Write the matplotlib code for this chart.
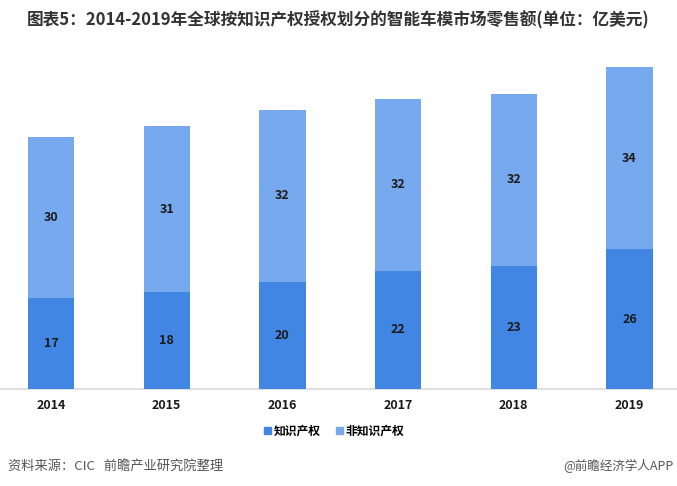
import matplotlib
matplotlib.use("Agg")
import matplotlib.pyplot as plt
from matplotlib.patches import Patch

plt.rcParams['font.family'] = ['Noto Sans CJK SC', 'DejaVu Sans']

years = ['2014', '2015', '2016', '2017', '2018', '2019']
ip_values = [17, 18, 20, 22, 23, 26]
non_ip_values = [30, 31, 32, 32, 32, 34]
series_names = ['知识产权', '非知识产权']

dark = '#4186E2'
light = '#77A9EE'

W, H = 677, 486
fig = plt.figure(figsize=(W/100, H/100), dpi=100)
ax = fig.add_axes([0, 1-389/H, 1, (389-40)/H])

x = list(range(len(years)))
bw = 0.40
b1 = ax.bar(x, ip_values, bw, color=dark, zorder=3)
b2 = ax.bar(x, non_ip_values, bw, bottom=ip_values, color=light, zorder=3)

for i in x:
    ax.text(i, ip_values[i]/2, str(ip_values[i]), ha='center', va='center',
            fontsize=9, fontweight='bold', color='#1a1a1a', zorder=4)
    ax.text(i, ip_values[i] + non_ip_values[i]/2, str(non_ip_values[i]), ha='center', va='center',
            fontsize=9, fontweight='bold', color='#1a1a1a', zorder=4)

ax.set_xlim(-0.44, 5.41)
ax.set_ylim(0, 65)
for s in ['top', 'right', 'left']:
    ax.spines[s].set_visible(False)
ax.spines['bottom'].set_color('#d9d9d9')
ax.spines['bottom'].set_linewidth(1.2)
ax.set_yticks([])
ax.set_xticks(x)
ax.set_xticklabels(years, fontsize=9, fontweight='bold', color='#1a1a1a')
ax.tick_params(axis='x', length=0, pad=7)

handles = [Patch(color=dark), Patch(color=light)]
fig.legend(handles, series_names, loc='center', bbox_to_anchor=(334/W, 1-431/H), ncol=2,
           frameon=False, prop={'size': 8.5, 'weight': 'bold'}, handlelength=0.6, handleheight=0.6,
           handletextpad=0.2, columnspacing=1.3)

fig.text(338/W, 1-20/H, '图表5：2014-2019年全球按知识产权授权划分的智能车模市场零售额(单位：亿美元)',
         ha='center', va='center', fontsize=12, fontweight='bold', color='#333333')

fig.text(8/W, 1-466/H, '资料来源：CIC   前瞻产业研究院整理', ha='left', va='center', fontsize=9.5, color='#555555')
fig.text(673/W, 1-466/H, '@前瞻经济学人APP', ha='right', va='center', fontsize=9, color='#555555')

fig.savefig('out.png', dpi=100)
